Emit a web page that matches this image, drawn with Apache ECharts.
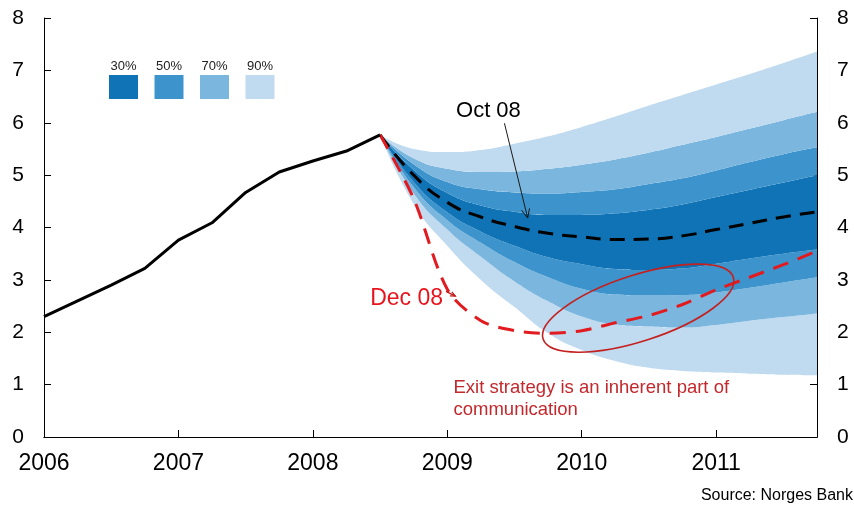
<!DOCTYPE html>
<html>
<head>
<meta charset="utf-8">
<script src="https://cdn.jsdelivr.net/npm/echarts@6/dist/echarts.min.js"></script>
<style>
  html, body { margin: 0; padding: 0; background: #fff; }
  #chart { width: 854px; height: 506px; }
</style>
</head>
<body>
<div id="chart"></div>
<script>
// x axis: quarters 2006Q1 .. 2011Q4, year labels on Q1
const years = [2006, 2007, 2008, 2009, 2010, 2011];
const quarters = years.flatMap(y => [y + 'Q1', y + 'Q2', y + 'Q3', y + 'Q4']);

// history, 2006Q1 .. 2008Q3
const histY = [2.30, 2.60, 2.90, 3.22, 3.76, 4.09, 4.67, 5.06, 5.27, 5.46, 5.77];

// forecast period, 2008Q3 .. 2011Q4
const fanStart = '2008Q3';
const oct08 = [5.77, 5.00, 4.48, 4.20, 4.02, 3.89, 3.82, 3.77, 3.78, 3.84, 3.96, 4.08, 4.20, 4.30];
const dec08 = [5.77, 4.55, 2.82, 2.22, 2.03, 1.98, 2.03, 2.18, 2.32, 2.53, 2.81, 3.05, 3.29, 3.55];

// fan chart bounds
const upper90 = [5.77, 5.50, 5.44, 5.48, 5.60, 5.74, 5.92, 6.12, 6.33, 6.53, 6.73, 6.93, 7.14, 7.36];
const upper70 = [5.77, 5.32, 5.12, 5.06, 5.07, 5.12, 5.20, 5.30, 5.43, 5.58, 5.73, 5.89, 6.05, 6.21];
const upper50 = [5.77, 5.21, 4.87, 4.73, 4.67, 4.65, 4.68, 4.73, 4.83, 4.94, 5.09, 5.25, 5.40, 5.53];
const upper30 = [5.77, 5.10, 4.66, 4.42, 4.30, 4.24, 4.24, 4.27, 4.34, 4.44, 4.58, 4.72, 4.86, 5.00];
const lower30 = [5.77, 4.87, 4.29, 3.92, 3.65, 3.43, 3.30, 3.21, 3.19, 3.22, 3.31, 3.41, 3.50, 3.58];
const lower50 = [5.77, 4.77, 4.14, 3.71, 3.34, 3.05, 2.83, 2.72, 2.70, 2.71, 2.76, 2.85, 2.95, 3.05];
const lower70 = [5.77, 4.65, 3.96, 3.44, 2.97, 2.59, 2.30, 2.15, 2.11, 2.09, 2.14, 2.22, 2.29, 2.36];
const lower90 = [5.77, 4.45, 3.65, 3.00, 2.48, 1.98, 1.66, 1.45, 1.32, 1.26, 1.23, 1.21, 1.19, 1.18];

const bandNames = ['30%', '50%', '70%', '90%'];
const bandColors = ['#0f73b5', '#3d94cc', '#7bb6de', '#c0dbef'];

const font = 'Liberation Sans, Arial, sans-serif';
const chart = echarts.init(document.getElementById('chart'));

// pad a series onto the full quarter axis
const offset = quarters.indexOf(fanStart);
const padFan = arr => quarters.map((q, i) => (i < offset ? null : arr[i - offset]));
const padHist = arr => quarters.map((q, i) => (i < arr.length ? arr[i] : null));
const diff = (hi, lo) => padFan(hi.map((v, i) => +(v - lo[i]).toFixed(3)));

function band(name, data, color) {
    return {
        name: name, type: 'line', stack: 'fan', data: data,
        smooth: true, symbol: 'none', silent: true,
        lineStyle: { width: 0, opacity: 0 },
        areaStyle: { color: color, opacity: 1 },
        z: 1
    };
}

const series = [
    { name: 'base', type: 'line', stack: 'fan', data: padFan(lower90), smooth: true,
      symbol: 'none', lineStyle: { width: 0, opacity: 0 }, z: 1 },
    band('90%', diff(lower70, lower90), bandColors[3]),
    band('70%', diff(lower50, lower70), bandColors[2]),
    band('50%', diff(lower30, lower50), bandColors[1]),
    band('30%', diff(upper30, lower30), bandColors[0]),
    band('50%', diff(upper50, upper30), bandColors[1]),
    band('70%', diff(upper70, upper50), bandColors[2]),
    band('90%', diff(upper90, upper70), bandColors[3]),
    { name: 'Oct 08', type: 'line', data: padFan(oct08), smooth: true, symbol: 'none',
      lineStyle: { color: '#000', width: 3, type: [15, 9] }, z: 5 },
    { name: 'Dec 08', type: 'line', data: padFan(dec08), smooth: 0.3, symbol: 'none',
      lineStyle: { color: '#e11b1f', width: 3, type: [16, 10] }, z: 6 },
    { name: 'history', type: 'line', data: padHist(histY), symbol: 'none',
      lineStyle: { color: '#000', width: 3 }, z: 7 }
];

const yAxisBase = {
    type: 'value', min: 0, max: 8, interval: 1,
    axisLine: { show: true, lineStyle: { color: '#000', width: 1 } },
    axisTick: { show: true, inside: true, length: 7, lineStyle: { color: '#000' } },
    axisLabel: { fontSize: 21, color: '#000', fontFamily: font, margin: 20 },
    splitLine: { show: false }
};

const isYearStart = i => i % 4 === 0;

chart.setOption({
    animation: false,
    backgroundColor: '#fff',
    grid: { left: 44, right: 37, top: 18, bottom: 69 },
    xAxis: [{
        type: 'category', data: quarters, boundaryGap: false, position: 'bottom',
        axisLine: { lineStyle: { color: '#000', width: 1 } },
        axisTick: { inside: true, length: 7, interval: isYearStart, lineStyle: { color: '#000' } },
        axisLabel: { fontSize: 23, color: '#000', fontFamily: font, margin: 15,
            interval: isYearStart, formatter: v => v.slice(0, 4) },
        splitLine: { show: false }
    }, {
        // top frame line, also used to place annotations in fractional years
        type: 'value', min: 2006, max: 2011.75, position: 'top',
        axisLine: { show: true, lineStyle: { color: '#000', width: 1 } },
        axisTick: { show: false }, axisLabel: { show: false }, splitLine: { show: false }
    }],
    yAxis: [
        Object.assign({}, yAxisBase, { position: 'left' }),
        Object.assign({}, yAxisBase, { position: 'right' })
    ],
    series: series
});

// annotations, anchored in data coordinates (years, percent)
const px = p => chart.convertToPixel({ xAxisIndex: 1, yAxisIndex: 0 }, p);

function arrow(from, to, color, width, head) {
    const a = px(from), b = px(to);
    const dx = b[0] - a[0], dy = b[1] - a[1];
    const len = Math.sqrt(dx * dx + dy * dy);
    const ux = dx / len, uy = dy / len;
    return [
        { type: 'line', shape: { x1: a[0], y1: a[1], x2: b[0], y2: b[1] },
          style: { stroke: color, lineWidth: width }, z: 20 },
        { type: 'polyline', shape: { points: [
            [b[0] - head * ux + head * 0.45 * uy, b[1] - head * uy - head * 0.45 * ux],
            [b[0], b[1]],
            [b[0] - head * ux - head * 0.45 * uy, b[1] - head * uy + head * 0.45 * ux]] },
          style: { stroke: color, lineWidth: width, fill: null }, z: 20 }
    ];
}

const octLabel = px([2009.306, 6.23]);
const decLabel = px([2008.697, 2.64]);
const exitLabel = px([2009.046, 0.94]);
const ring = px([2010.42, 2.46]);

const legendItems = [];
bandNames.forEach((n, i) => {
    const x0 = 109 + i * 45.5;
    legendItems.push({ type: 'rect', shape: { x: x0, y: 75, width: 29, height: 24 },
        style: { fill: bandColors[i] }, z: 20 });
    legendItems.push({ type: 'text', x: x0 + 14.5, y: 66,
        style: { text: n, fontSize: 13, fontFamily: font, fill: '#222',
                 textAlign: 'center', textVerticalAlign: 'middle' }, z: 20 });
});

chart.setOption({
    graphic: [].concat(
        legendItems,
        [{ type: 'text', x: octLabel[0], y: octLabel[1],
           style: { text: 'Oct 08', fontSize: 22, fontFamily: font, fill: '#000',
                    textAlign: 'center', textVerticalAlign: 'middle' }, z: 20 }],
        arrow([2009.425, 5.99], [2009.598, 4.18], '#1a1a1a', 1, 9),
        [{ type: 'text', x: decLabel[0], y: decLabel[1],
           style: { text: 'Dec 08', fontSize: 23, fontFamily: font, fill: '#e8141c',
                    textAlign: 'center', textVerticalAlign: 'middle' }, z: 20 }],
        arrow([2008.99, 2.78], [2009.06, 2.69], '#c01818', 1.2, 5),
        [{ type: 'ellipse', x: ring[0], y: ring[1], rotation: 18 * Math.PI / 180,
           shape: { cx: 0, cy: 0, rx: 100, ry: 33 },
           style: { fill: null, stroke: '#c3201f', lineWidth: 1.6 }, z: 20 },
         { type: 'text', x: exitLabel[0], y: exitLabel[1] - 11,
           style: { text: 'Exit strategy is an inherent part of\ncommunication', fontSize: 18.5,
                    lineHeight: 22, fontFamily: font, fill: '#c3282d',
                    textAlign: 'left', textVerticalAlign: 'top' }, z: 20 },
         { type: 'text', right: 1, bottom: 2,
           style: { text: 'Source: Norges Bank', fontSize: 16, fontFamily: font, fill: '#000' }, z: 20 }]
    )
});
</script>
</body>
</html>
